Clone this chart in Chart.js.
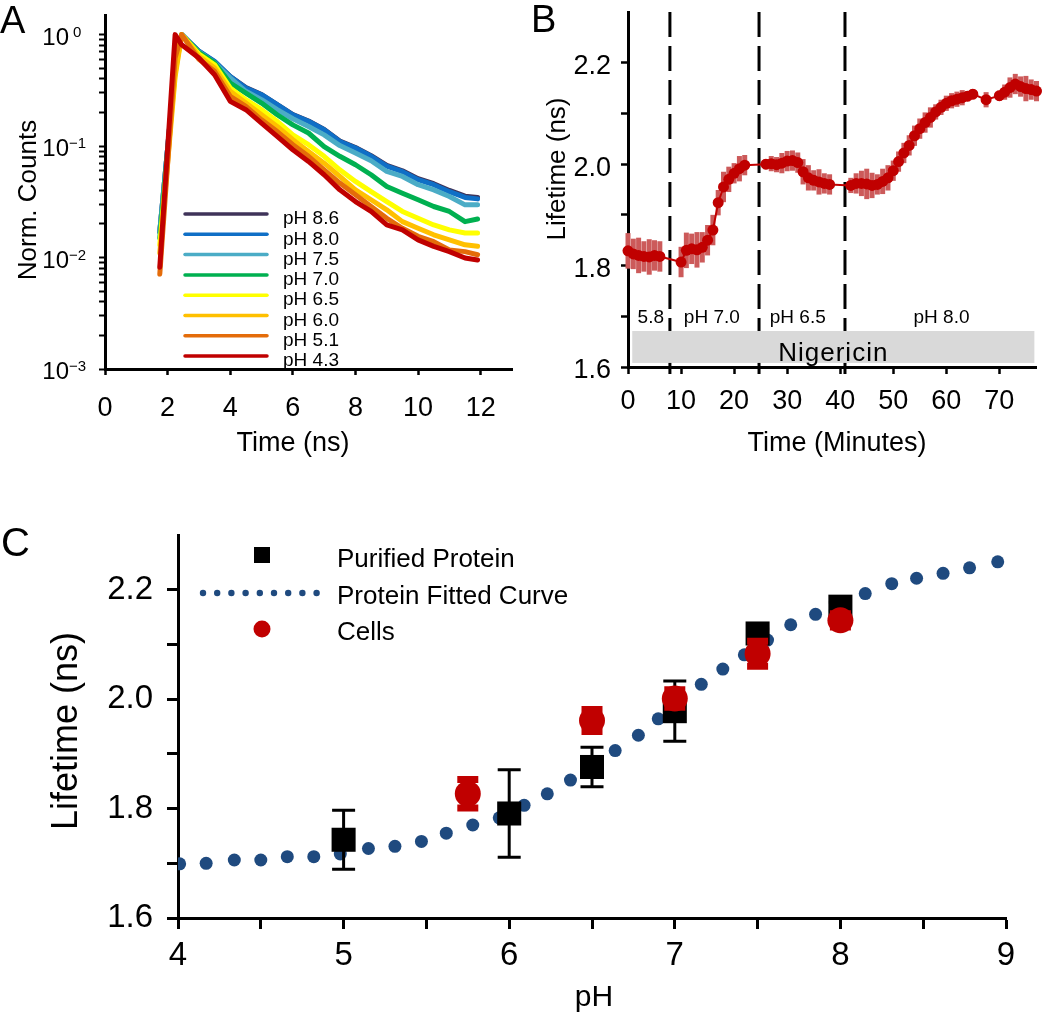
<!DOCTYPE html>
<html><head><meta charset="utf-8">
<script src="https://cdn.jsdelivr.net/npm/chart.js@4.4.0/dist/chart.umd.min.js"></script>
<style>
html,body{margin:0;padding:0;background:#fff;width:1050px;height:1017px;overflow:hidden}
canvas{position:absolute;left:0;top:0}
</style></head><body>
<canvas id="cA" width="1050" height="1017"></canvas>
<canvas id="cB" width="1050" height="1017"></canvas>
<canvas id="cC" width="1050" height="1017"></canvas>
<script>
// ---------------- DATA ----------------
// Panel A: fluorescence decays (normalised counts vs time in ns)
const decayTime = [1.75, 2.24, 2.45, 3.0, 3.5, 4.0, 4.5, 5.0, 5.5, 6.0, 6.5, 7.0, 7.5, 8.0, 8.5, 9.0, 9.5, 10.0, 10.5, 11.0, 11.5, 11.9];
const counts_pH86 = [0.017, 0.5, 1.0, 0.71, 0.57, 0.42, 0.335, 0.29, 0.236, 0.192, 0.168, 0.141, 0.111, 0.097, 0.082, 0.067, 0.060, 0.051, 0.046, 0.040, 0.0355, 0.0345];
const counts_pH80 = [0.017, 0.5, 1.0, 0.71, 0.576, 0.42, 0.332, 0.289, 0.235, 0.191, 0.167, 0.140, 0.110, 0.096, 0.081, 0.066, 0.059, 0.050, 0.045, 0.039, 0.0346, 0.0336];
const counts_pH75 = [0.017, 0.5, 1.0, 0.70, 0.56, 0.41, 0.31, 0.261, 0.212, 0.176, 0.150, 0.126, 0.101, 0.0865, 0.0738, 0.0592, 0.0534, 0.045, 0.0405, 0.0353, 0.0297, 0.0297];
const counts_pH70 = [0.015, 0.48, 1.0, 0.69, 0.557, 0.368, 0.299, 0.243, 0.191, 0.155, 0.131, 0.099, 0.081, 0.068, 0.0553, 0.0434, 0.0378, 0.033, 0.0287, 0.0259, 0.021, 0.0222];
const counts_pH65 = [0.013, 0.45, 1.0, 0.67, 0.537, 0.332, 0.261, 0.212, 0.167, 0.126, 0.103, 0.081, 0.0613, 0.0482, 0.039, 0.0318, 0.0259, 0.0225, 0.0196, 0.0177, 0.0166, 0.0166];
const counts_pH60 = [0.011, 0.42, 1.0, 0.64, 0.502, 0.31, 0.243, 0.191, 0.150, 0.114, 0.0896, 0.0703, 0.0534, 0.0405, 0.033, 0.0268, 0.021, 0.0183, 0.016, 0.0144, 0.013, 0.0126];
const counts_pH51 = [0.0071, 0.62, 1.0, 0.60, 0.469, 0.279, 0.227, 0.172, 0.135, 0.103, 0.081, 0.0613, 0.0466, 0.0366, 0.0287, 0.0225, 0.0183, 0.0155, 0.0139, 0.0117, 0.0113, 0.0106];
const counts_pH43 = [0.0082, 1.0, 0.81, 0.617, 0.437, 0.252, 0.212, 0.161, 0.122, 0.0927, 0.0728, 0.0553, 0.0405, 0.0318, 0.0259, 0.0196, 0.0177, 0.0144, 0.0126, 0.0113, 0.0099, 0.0095];
const phLabels = ['pH 8.6', 'pH 8.0', 'pH 7.5', 'pH 7.0', 'pH 6.5', 'pH 6.0', 'pH 5.1', 'pH 4.3'];
const phColors = ['#3f3359', '#0f6fc6', '#4bacc6', '#00b050', '#ffff00', '#ffc000', '#e46c0a', '#c00000'];
const phSeries = [counts_pH86, counts_pH80, counts_pH75, counts_pH70, counts_pH65, counts_pH60, counts_pH51, counts_pH43];
const xTicksA = [0, 2, 4, 6, 8, 10, 12];
const decadeValues = [1, 0.1, 0.01, 0.001];
const decadeExp = ['0', '\u22121', '\u22122', '\u22123'];

// Panel B: lifetime vs time in minutes
const timeB = [0,1,2,3,4,5,6, 10,11,12,13,14,15,16,17,18,19,20,21,22, 26,27,28,29,30,31,32,33,34,35,36,37,38, 42,43,44,45,46,47,48,49,50,51,52,53,54,55,56,57,58,59,60,61,62,63,64,65, 67.5, 70,71,72,73,74,75,76,77];
const lifetimeB = [1.829,1.823,1.820,1.818,1.817,1.820,1.818,
  1.807,1.830,1.833,1.831,1.836,1.850,1.870,1.924,1.955,1.970,1.982,1.991,1.998,
  2.000,2.001,1.999,2.002,2.006,2.007,2.003,1.985,1.973,1.968,1.965,1.962,1.960,
  1.958,1.962,1.962,1.961,1.958,1.960,1.966,1.973,1.987,2.005,2.022,2.037,2.056,2.070,2.082,2.092,2.103,2.112,2.120,2.125,2.128,2.131,2.134,2.138,
  2.127,
  2.135,2.142,2.151,2.158,2.153,2.149,2.147,2.144];
const errB = [0.035,0.03,0.035,0.03,0.035,0.03,0.03,
  0.03,0.035,0.03,0.035,0.03,0.03,0.03,0.025,0.03,0.025,0.02,0.025,0.02,
  0.01,0.015,0.015,0.02,0.02,0.02,0.02,0.025,0.025,0.02,0.025,0.02,0.02,
  0.015,0.02,0.025,0.03,0.025,0.02,0.025,0.025,0.02,0.02,0.02,0.02,0.02,0.02,0.02,0.02,0.015,0.015,0.015,0.015,0.015,0.015,0.01,0.01,
  0.015,
  0.01,0.015,0.02,0.02,0.02,0.025,0.02,0.02];
const xTicksB = [0, 10, 20, 30, 40, 50, 60, 70];
const yTicksLife = [1.6, 1.7, 1.8, 1.9, 2.0, 2.1, 2.2];
const yLabelsLife = ['1.6', '', '1.8', '', '2.0', '', '2.2'];
const bufferChanges = [7.9, 24.7, 40.9];
const regionLabels = ['5.8', 'pH 7.0', 'pH 6.5', 'pH 8.0'];
const regionLabelX = [4.3, 15.8, 32.0, 59.1];
const nigericinRange = [0.8, 76.6];

// Panel C: lifetime vs pH
const fitPH = [4.01,4.17,4.34,4.50,4.66,4.82,4.98,5.15,5.31,5.47,5.62,5.78,5.94,6.09,6.23,6.37,6.51,6.64,6.78,6.90,7.03,7.16,7.29,7.42,7.56,7.70,7.85,8.00,8.15,8.31,8.46,8.62,8.78,8.95];
const fitLife = [1.699,1.700,1.706,1.706,1.712,1.712,1.717,1.727,1.731,1.740,1.755,1.770,1.783,1.806,1.827,1.852,1.878,1.906,1.934,1.964,1.995,2.027,2.055,2.081,2.108,2.136,2.155,2.175,2.193,2.211,2.221,2.230,2.240,2.251];
const proteinPH = [5, 6, 6.5, 7, 7.5, 8];
const proteinLife = [1.743, 1.791, 1.876, 1.978, 2.120, 2.169];
const proteinErr = [0.054, 0.080, 0.036, 0.055, 0.008, 0.008];
const cellsPH = [5.75, 6.5, 7, 7.5, 8];
const cellsLife = [1.827, 1.961, 2.001, 2.083, 2.144];
const cellsErr = [0.026, 0.020, 0.016, 0.023, 0.012];
const xTicksC = [4, 4.5, 5, 5.5, 6, 6.5, 7, 7.5, 8, 8.5, 9];
const xLabelsC = ['4', '', '5', '', '6', '', '7', '', '8', '', '9'];
const legendCLabels = ['Purified Protein', 'Protein Fitted Curve', 'Cells'];

// ---------------- HELPERS ----------------
const FF = '"Liberation Sans", Arial, Helvetica, sans-serif';
Chart.defaults.font.family = FF;
Chart.defaults.color = '#000';
Chart.defaults.animation = false;

const fixW = w => s => { s.width = w; s.paddingTop = 0; s.paddingBottom = 0; s.paddingLeft = 0; s.paddingRight = 0; };
const fixH = h => s => { s.height = h; s.paddingTop = 0; s.paddingBottom = 0; s.paddingLeft = 0; s.paddingRight = 0; };
const setTicks = arr => s => { s.ticks = arr.map(v => ({ value: v })); };
function gridOpts(len, w) { return { display: true, drawOnChartArea: false, drawTicks: true, tickLength: len, tickWidth: w, tickColor: '#000' }; }
const borderOpts = { display: true, color: '#000', width: 3 };

function drawText(ctx, t) {
  ctx.save();
  ctx.font = t.size + 'px ' + FF;
  ctx.fillStyle = '#000';
  ctx.textAlign = t.align || 'center';
  ctx.textBaseline = t.baseline || 'middle';
  ctx.translate(t.x, t.y);
  if (t.rot) ctx.rotate(t.rot);
  ctx.fillText(t.text, 0, 0);
  ctx.restore();
}
function textLayer(items) { return { id: 'texts', afterDraw(chart) { items.forEach(t => drawText(chart.ctx, t)); } }; }

const errorBars = {
  id: 'errorBars',
  beforeDatasetDraw(chart, args) {
    const ds = chart.data.datasets[args.index];
    if (!ds.errors) return;
    const { ctx, scales: { x, y } } = chart;
    const st = ds.errorStyle;
    ctx.save();
    ctx.strokeStyle = st.color;
    ds.data.forEach((p, i) => {
      const e = ds.errors[i]; if (!e) return;
      const px = x.getPixelForValue(p.x), top = y.getPixelForValue(p.y + e), bot = y.getPixelForValue(p.y - e);
      ctx.lineWidth = st.width;
      ctx.beginPath(); ctx.moveTo(px, top); ctx.lineTo(px, bot); ctx.stroke();
      if (st.cap) {
        ctx.lineWidth = st.capWidth;
        ctx.beginPath();
        ctx.moveTo(px - st.cap / 2, top); ctx.lineTo(px + st.cap / 2, top);
        ctx.moveTo(px - st.cap / 2, bot); ctx.lineTo(px + st.cap / 2, bot);
        ctx.stroke();
      }
    });
    ctx.restore();
  }
};

// ---------------- PANEL A ----------------
const decadeLabelsA = {
  id: 'decA',
  afterDraw(chart) {
    const s = chart.scales.y, ctx = chart.ctx;
    decadeValues.forEach((v, i) => {
      const y = s.getPixelForValue(v);
      ctx.save(); ctx.fillStyle = '#000'; ctx.textBaseline = 'alphabetic';
      ctx.font = '24px ' + FF; ctx.textAlign = 'right'; ctx.fillText('10', 69, y + 10);
      const sup = decadeExp[i];
      ctx.font = '15px ' + FF; ctx.textAlign = 'left';
      ctx.fillText(sup, sup.charAt(0) === '\u2212' ? 69 : 73, y + 2);
      ctx.restore();
    });
  }
};
const legendA = {
  id: 'legendA',
  afterDatasetsDraw(chart) {
    const ctx = chart.ctx;
    phLabels.forEach((lab, i) => {
      const y = 214 + i * 20.3;
      ctx.save();
      ctx.strokeStyle = phColors[i]; ctx.lineWidth = 3.5; ctx.lineCap = 'round';
      ctx.beginPath(); ctx.moveTo(185, y); ctx.lineTo(267, y); ctx.stroke();
      ctx.fillStyle = '#000'; ctx.font = '19px ' + FF; ctx.textAlign = 'left'; ctx.textBaseline = 'middle';
      ctx.fillText(lab, 283, y + 5);
      ctx.restore();
    });
  }
};
const yTicksA = [0.001, 0.01, 0.1].flatMap(d => [1, 2, 3, 4, 5, 6, 7, 8, 9].map(m => +(d * m).toPrecision(3))).concat([1]);

new Chart(document.getElementById('cA'), {
  type: 'line',
  data: {
    datasets: phSeries.map((vals, i) => ({
      label: phLabels[i],
      data: vals.map((v, j) => ({ x: decayTime[j], y: v })),
      borderColor: phColors[i], backgroundColor: phColors[i],
      borderWidth: 5, pointRadius: 0, tension: 0, fill: false,
      borderJoinStyle: 'round', borderCapStyle: 'round',
      order: 7 - i
    }))
  },
  options: {
    responsive: false, events: [],
    layout: { padding: { left: 0, top: 15, right: 538, bottom: 0 } },
    plugins: { legend: { display: false }, tooltip: { enabled: false } },
    scales: {
      x: {
        type: 'linear', min: 0, max: 13, bounds: 'data',
        afterBuildTicks: setTicks(xTicksA), afterFit: fixH(648),
        ticks: { autoSkip: false, maxRotation: 0, padding: 17, font: { size: 27 }, color: '#000' },
        grid: gridOpts(6, 2.5), border: borderOpts
      },
      y: {
        type: 'logarithmic', min: 0.001, max: 1.5,
        afterBuildTicks: setTicks(yTicksA), afterFit: fixW(105),
        ticks: { autoSkip: false, display: false },
        grid: gridOpts(6, 2), border: borderOpts
      }
    }
  },
  plugins: [decadeLabelsA, legendA, textLayer([
    { text: 'Time (ns)', x: 293, y: 444, size: 27 },
    { text: 'Norm. Counts', x: 29, y: 200, size: 26, rot: -Math.PI / 2 },
    { text: 'A', x: 0, y: 33, size: 38, align: 'left', baseline: 'alphabetic' }
  ])]
});

// ---------------- PANEL B ----------------
const annotB = {
  id: 'annotB',
  beforeDatasetsDraw(chart) {
    const { ctx, chartArea: ca, scales: { x, y } } = chart;
    ctx.save();
    ctx.strokeStyle = '#000'; ctx.lineWidth = 3; ctx.setLineDash([25, 9]);
    bufferChanges.forEach(t => {
      const px = x.getPixelForValue(t);
      ctx.beginPath(); ctx.moveTo(px, ca.top); ctx.lineTo(px, ca.bottom + 7); ctx.stroke();
    });
    ctx.setLineDash([]);
    const x0 = x.getPixelForValue(nigericinRange[0]), x1 = x.getPixelForValue(nigericinRange[1]);
    const y0 = y.getPixelForValue(1.671), y1 = y.getPixelForValue(1.608);
    ctx.fillStyle = '#d9d9d9'; ctx.fillRect(x0, y0, x1 - x0, y1 - y0);
    ctx.fillStyle = '#000'; ctx.textAlign = 'center'; ctx.textBaseline = 'alphabetic';
    ctx.font = '26px ' + FF;
    try { ctx.letterSpacing = '1px'; } catch (e) {}
    ctx.fillText('Nigericin', (x0 + x1) / 2, y1 - 2);
    try { ctx.letterSpacing = '0px'; } catch (e) {}
    ctx.font = '19px ' + FF;
    regionLabels.forEach((lab, i) => ctx.fillText(lab, x.getPixelForValue(regionLabelX[i]), y.getPixelForValue(1.687)));
    ctx.restore();
  }
};

new Chart(document.getElementById('cB'), {
  type: 'line',
  data: {
    datasets: [{
      label: 'Lifetime',
      data: timeB.map((t, i) => ({ x: t, y: lifetimeB[i] })),
      errors: errB, errorStyle: { color: '#cc5a5a', width: 5, cap: 0 },
      borderColor: '#c00000', borderWidth: 2, tension: 0,
      pointRadius: 5.5, pointBackgroundColor: '#c00000', pointBorderWidth: 0,
      clip: false
    }]
  },
  options: {
    responsive: false, events: [],
    layout: { padding: { left: 528, top: 12, right: 13.5, bottom: 0 } },
    plugins: { legend: { display: false }, tooltip: { enabled: false } },
    scales: {
      x: {
        type: 'linear', min: 0, max: 77, bounds: 'data',
        afterBuildTicks: setTicks(xTicksB), afterFit: fixH(650),
        ticks: { autoSkip: false, maxRotation: 0, padding: 11, font: { size: 27 }, color: '#000' },
        grid: gridOpts(7, 2.5), border: borderOpts
      },
      y: {
        type: 'linear', min: 1.6, max: 2.3, bounds: 'data',
        afterBuildTicks: setTicks(yTicksLife), afterFit: fixW(100),
        ticks: { autoSkip: false, padding: 10, labelOffset: 4, font: { size: 27 }, color: '#000', callback: (v, i) => yLabelsLife[i] },
        grid: gridOpts(7, 2.5), border: borderOpts
      }
    }
  },
  plugins: [errorBars, annotB, textLayer([
    { text: 'Time (Minutes)', x: 837, y: 444, size: 27 },
    { text: 'Lifetime (ns)', x: 558, y: 169, size: 26, rot: -Math.PI / 2 },
    { text: 'B', x: 531, y: 32, size: 38, align: 'left', baseline: 'alphabetic' }
  ])]
});

// ---------------- PANEL C ----------------
const fitColor = '#1f4a7f';
const legendC = {
  id: 'legendC',
  afterDatasetsDraw(chart) {
    const ctx = chart.ctx;
    ctx.save();
    ctx.fillStyle = '#000'; ctx.fillRect(254, 547, 16, 16);
    ctx.fillStyle = fitColor;
    for (let k = 0; k < 9; k++) { ctx.beginPath(); ctx.arc(203 + k * 14.2, 593, 3.2, 0, Math.PI * 2); ctx.fill(); }
    ctx.fillStyle = '#c00000'; ctx.beginPath(); ctx.arc(262, 629, 8.5, 0, Math.PI * 2); ctx.fill();
    ctx.fillStyle = '#000'; ctx.font = '26px ' + FF; ctx.textAlign = 'left'; ctx.textBaseline = 'middle';
    const ys = [560, 597, 633];
    legendCLabels.forEach((t, i) => ctx.fillText(t, 337, ys[i]));
    ctx.restore();
  }
};

new Chart(document.getElementById('cC'), {
  type: 'scatter',
  data: {
    datasets: [
      {
        label: legendCLabels[2],
        data: cellsPH.map((p, i) => ({ x: p, y: cellsLife[i] })),
        errors: cellsErr, errorStyle: { color: '#c00000', width: 3, cap: 21, capWidth: 7 },
        pointStyle: 'circle', pointRadius: 13, backgroundColor: '#c00000', borderWidth: 0, order: 0
      },
      {
        label: legendCLabels[0],
        data: proteinPH.map((p, i) => ({ x: p, y: proteinLife[i] })),
        errors: proteinErr, errorStyle: { color: '#000', width: 3, cap: 23, capWidth: 3 },
        pointStyle: 'rect', pointRadius: 17, backgroundColor: '#000', borderWidth: 0, order: 1
      },
      {
        label: legendCLabels[1],
        data: fitPH.map((p, i) => ({ x: p, y: fitLife[i] })),
        pointStyle: 'circle', pointRadius: 6.5, backgroundColor: fitColor, borderWidth: 0, order: 2
      }
    ]
  },
  options: {
    responsive: false, events: [],
    layout: { padding: { left: 58, top: 535, right: 44, bottom: 0 } },
    plugins: { legend: { display: false }, tooltip: { enabled: false } },
    scales: {
      x: {
        type: 'linear', min: 4, max: 9, bounds: 'data',
        afterBuildTicks: setTicks(xTicksC), afterFit: fixH(99),
        ticks: { autoSkip: false, maxRotation: 0, padding: 7, font: { size: 33 }, color: '#000', callback: (v, i) => xLabelsC[i] },
        grid: gridOpts(11, 3), border: borderOpts
      },
      y: {
        type: 'linear', min: 1.6, max: 2.3, bounds: 'data',
        afterBuildTicks: setTicks(yTicksLife), afterFit: fixW(120),
        ticks: { autoSkip: false, padding: 14, font: { size: 33 }, color: '#000', callback: (v, i) => yLabelsLife[i] },
        grid: gridOpts(11, 3), border: borderOpts
      }
    }
  },
  plugins: [errorBars, legendC, textLayer([
    { text: 'pH', x: 594, y: 998, size: 30 },
    { text: 'Lifetime (ns)', x: 67, y: 731, size: 36, rot: -Math.PI / 2 },
    { text: 'C', x: 1, y: 556, size: 40, align: 'left', baseline: 'alphabetic' }
  ])]
});
</script>
</body></html>
